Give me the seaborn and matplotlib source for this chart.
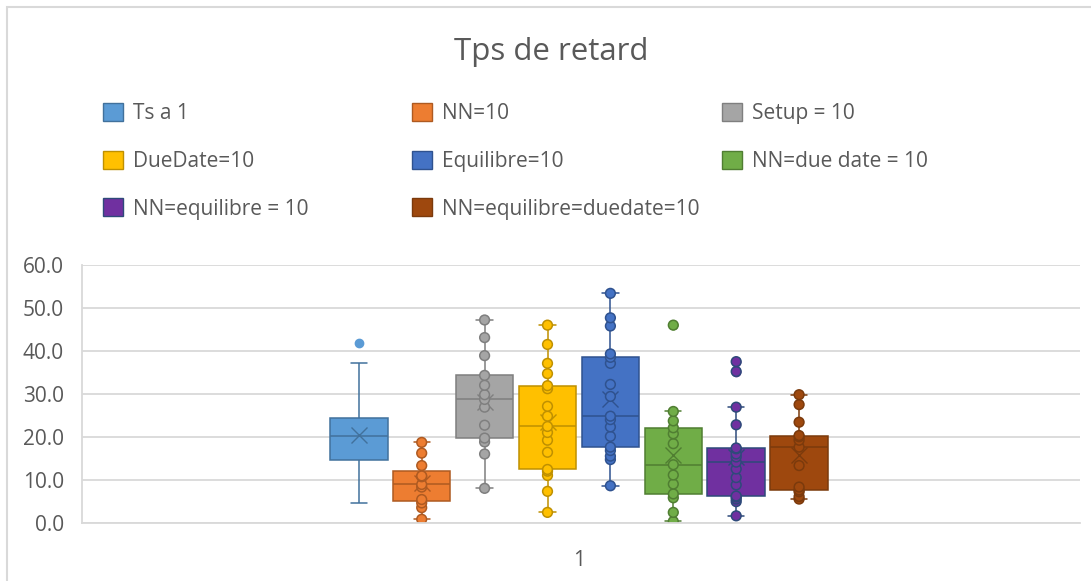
import numpy as np
import pandas as pd
import matplotlib
matplotlib.use("Agg")
import matplotlib.pyplot as plt
from matplotlib.patches import Patch, Rectangle
from matplotlib.colors import to_rgba
import seaborn as sns

# ---------------- data ----------------
series_names = ["Ts a 1", "NN=10", "Setup = 10", "DueDate=10", "Equilibre=10",
                "NN=due date = 10", "NN=equilibre = 10", "NN=equilibre=duedate=10"]

ts_a_1 = [4.7, 9.0, 12.0, 14.2, 15.2, 16.0, 19.0, 20.3, 21.0, 21.5, 23.8, 24.8, 25.0, 37.1, 41.8]
nn_10 = [0.8, 3.5, 4.6, 5.4, 8.3, 8.9, 10.7, 10.9, 13.3, 16.2, 18.7]
setup_10 = [8.0, 16.0, 18.8, 19.7, 22.7, 26.9, 28.7, 29.8, 32.0, 34.3, 38.9, 43.1, 47.2]
duedate_10 = [2.4, 7.3, 11.0, 12.0, 12.4, 16.4, 19.2, 21.0, 22.4, 24.8, 27.1, 31.2, 31.9,
              34.7, 37.1, 41.5, 46.0]
equilibre_10 = [8.6, 14.7, 15.5, 16.8, 17.6, 20.1, 22.3, 24.0, 24.8, 29.4, 32.2, 37.1, 38.5,
                39.3, 45.8, 47.7, 53.4]
nn_duedate_10 = [0.3, 2.4, 5.8, 6.7, 9.0, 11.1, 13.5, 18.4, 20.7, 22.1, 23.7, 25.9, 46.0]
nn_equilibre_10 = [1.6, 4.9, 5.5, 6.0, 6.2, 8.8, 10.5, 12.5, 14.1, 15.3, 16.0, 17.2, 17.4,
                   22.8, 26.9, 35.2, 37.5]
nn_eq_dd_10 = [5.5, 6.1, 7.2, 7.6, 8.3, 13.3, 17.6, 19.2, 20.0, 20.3, 23.4, 27.5, 29.8]

series_values = [ts_a_1, nn_10, setup_10, duedate_10, equilibre_10,
                 nn_duedate_10, nn_equilibre_10, nn_eq_dd_10]
category_label = "1"
y_ticks = [0, 10, 20, 30, 40, 50, 60]
title = "Tps de retard"

# ---------------- style ----------------
fills = ["#5B9BD5", "#ED7D31", "#A5A5A5", "#FFC000", "#4472C4", "#70AD47", "#7030A0", "#9E480E"]
edges = ["#41719C", "#AE5A21", "#7F7F7F", "#BF9000", "#2F528F", "#507E32", "#2E4A7A", "#7B3A0C"]
text_color = "#595959"
grid_color = "#D9D9D9"

sns.set_style("white")
plt.rcParams["font.family"] = ["Open Sans", "DejaVu Sans"]

df = pd.DataFrame({
    "series": np.concatenate([[n] * len(v) for n, v in zip(series_names, series_values)]),
    "value": np.concatenate(series_values),
})
palette = dict(zip(series_names, fills))

W, H = 1091, 581
fig = plt.figure(figsize=(W / 100, H / 100), dpi=100)
ax = fig.add_axes([82 / W, (H - 522.7) / H, (1080 - 82) / W, (522.7 - 265) / H])

sns.boxplot(data=df, x="series", y="value", hue="series", order=series_names,
            hue_order=series_names, palette=palette, width=0.914, whis=1.5,
            linewidth=1.1, showmeans=True, legend=False, ax=ax,
            meanprops=dict(marker="x", markersize=12, markeredgewidth=1.0),
            flierprops=dict(marker="o", markersize=6))

for i, c in enumerate(ax.containers):
    ec = edges[i]
    for b in c.boxes:
        b.set_edgecolor(ec)
        b.set_facecolor(fills[i])
    for ln in list(c.whiskers) + list(c.caps) + list(c.medians):
        ln.set_color(ec)
    for cap in c.caps:
        xd = np.asarray(cap.get_xdata(), dtype=float)
        mid = xd.mean()
        cap.set_xdata([mid - 0.13, mid + 0.13])
    for m in c.means:
        m.set_markeredgecolor(ec)
        m.set_markerfacecolor(ec)
    for f in c.fliers:
        f.set_markerfacecolor(fills[i])
        f.set_markeredgecolor(fills[i])

n_before = len(ax.collections)
sns.stripplot(data=df[df["series"] != series_names[0]], x="series", y="value",
              hue="series", order=series_names, hue_order=series_names,
              palette=palette, jitter=False, size=7, linewidth=1.1,
              legend=False, ax=ax)
fill_rgba = [to_rgba(f) for f in fills]
for coll in ax.collections[n_before:]:
    fcs = coll.get_facecolor()
    if len(fcs) == 0:
        continue
    fc = tuple(fcs[0])
    idx = int(np.argmin([np.sum((np.array(fc) - np.array(r)) ** 2) for r in fill_rgba]))
    coll.set_edgecolor(edges[idx])
    coll.set_zorder(2.5)

# axes
ax.set_xlim(-(358.8 - 82) / 62.9, (1080 - 358.8) / 62.9)
ax.set_ylim(0, 60)
ax.set_yticks(y_ticks)
ax.set_yticklabels([f"{v:.1f}" for v in y_ticks])
ax.set_xticks([(len(series_names) - 1) / 2])
ax.set_xticklabels([category_label])
ax.set_xlabel("")
ax.set_ylabel("")
ax.tick_params(axis="y", length=0, pad=13, labelsize=15, labelcolor=text_color)
ax.tick_params(axis="x", length=0, pad=20, labelsize=15, labelcolor=text_color)
ax.yaxis.grid(True, color=grid_color, linewidth=1.3)
ax.set_axisbelow(True)
for s in ["top", "right"]:
    ax.spines[s].set_visible(False)
for s in ["left", "bottom"]:
    ax.spines[s].set_color(grid_color)
    ax.spines[s].set_linewidth(1.3)

# title
fig.text(551 / W, (H - 60) / H, title, ha="center", va="baseline",
         fontsize=22.5, color=text_color)

# legend: Excel fills row-wise in 3 columns
col_x = [103, 412, 722]
for col in range(3):
    idxs = [i for i in range(len(series_names)) if i % 3 == col]
    handles = [Patch(facecolor=fills[i], edgecolor=edges[i], linewidth=1.0) for i in idxs]
    labels = [series_names[i] for i in idxs]
    leg = fig.legend(handles, labels, loc="upper left",
                     bbox_to_anchor=(col_x[col] / W, (H - 103) / H),
                     frameon=False, fontsize=15, borderpad=0, borderaxespad=0,
                     handlelength=0.96, handleheight=0.96, handletextpad=0.5,
                     labelspacing=1.27)
    for t in leg.get_texts():
        t.set_color(text_color)

# chart border
fig.patches.append(Rectangle((7 / W, -0.1), 1.2, (H - 7) / H + 0.1,
                             transform=fig.transFigure, fill=False,
                             edgecolor=grid_color, linewidth=1.5))

fig.savefig("out.png", dpi=100)
